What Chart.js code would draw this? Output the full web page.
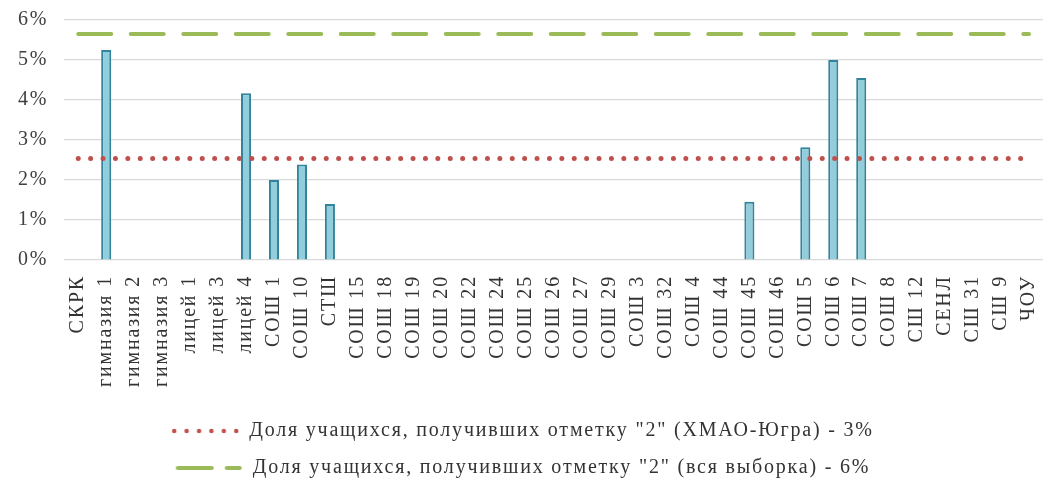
<!DOCTYPE html>
<html>
<head>
<meta charset="utf-8">
<script src="https://cdn.jsdelivr.net/npm/chart.js@4.4.0/dist/chart.umd.min.js"></script>
<style>
  html, body { margin: 0; padding: 0; background: #fff; }
  #wrap { width: 1043px; height: 479px; }
</style>
</head>
<body>
<div id="wrap"><canvas id="chart"></canvas></div>
<script>
// категории (школы)
const schools = ['СКРК', 'гимназия 1', 'гимназия 2', 'гимназия 3', 'лицей 1', 'лицей 3', 'лицей 4',
  'СОШ 1', 'СОШ 10', 'СТШ', 'СОШ 15', 'СОШ 18', 'СОШ 19', 'СОШ 20', 'СОШ 22', 'СОШ 24', 'СОШ 25',
  'СОШ 26', 'СОШ 27', 'СОШ 29', 'СОШ 3', 'СОШ 32', 'СОШ 4', 'СОШ 44', 'СОШ 45', 'СОШ 46',
  'СОШ 5', 'СОШ 6', 'СОШ 7', 'СОШ 8', 'СШ 12', 'СЕНЛ', 'СШ 31', 'СШ 9', 'ЧОУ'];

// доля "2" по школам, %
const schoolShare = [null, 5.25, null, null, null, null, 4.17,
  2.0, 2.39, 1.4, null, null, null, null, null, null, null,
  null, null, null, null, null, null, null, 1.46, null,
  2.82, 5.0, 4.55, null, null, null, null, null, null];

// ХМАО-Югра, %
const regionShare = [2.54, 2.54, 2.54, 2.54, 2.54, 2.54, 2.54, 2.54, 2.54, 2.54, 2.54, 2.54,
  2.54, 2.54, 2.54, 2.54, 2.54, 2.54, 2.54, 2.54, 2.54, 2.54, 2.54, 2.54, 2.54, 2.54, 2.54,
  2.54, 2.54, 2.54, 2.54, 2.54, 2.54, 2.54, 2.54];

// вся выборка, %
const sampleShare = [5.65, 5.65, 5.65, 5.65, 5.65, 5.65, 5.65, 5.65, 5.65, 5.65, 5.65, 5.65,
  5.65, 5.65, 5.65, 5.65, 5.65, 5.65, 5.65, 5.65, 5.65, 5.65, 5.65, 5.65, 5.65, 5.65, 5.65,
  5.65, 5.65, 5.65, 5.65, 5.65, 5.65, 5.65, 5.65];

const yTicks = [0, 1, 2, 3, 4, 5, 6];

const serif = 'Liberation Serif, "Times New Roman", serif';

// текст в оригинале чуть растянут по ширине
const spacing = {
  id: 'spacing',
  beforeLayout(chart) { chart.ctx.letterSpacing = '1.8px'; },
  beforeDraw(chart) { chart.ctx.letterSpacing = '1.8px'; }
};

// значки легенды: пунктир / штрих
function marker(color, width, dash) {
  const c = document.createElement('canvas');
  c.width = 68;
  c.height = 8;
  const g = c.getContext('2d');
  g.strokeStyle = color;
  g.lineWidth = width;
  g.lineCap = 'round';
  g.setLineDash(dash);
  g.beginPath();
  g.moveTo(3, 4);
  g.lineTo(65, 4);
  g.stroke();
  return c;
}
const legendMarks = [marker('#c0504d', 4.5, [0, 12.4]), marker('#9bbb59', 4, [34, 15])];

new Chart(document.getElementById('chart'), {
  type: 'bar',
  data: {
    labels: schools,
    datasets: [
      {
        type: 'line',
        label: 'Доля учащихся, получивших отметку "2" (ХМАО-Югра) - 3%',
        data: regionShare,
        borderColor: '#c0504d',
        backgroundColor: 'transparent',
        borderWidth: 5,
        borderDash: [0, 12.4],
        borderCapStyle: 'round',
        pointRadius: 0,
        fill: false
      },
      {
        type: 'line',
        label: 'Доля учащихся, получивших отметку "2" (вся выборка) - 6%',
        data: sampleShare,
        borderColor: '#9bbb59',
        backgroundColor: 'transparent',
        borderWidth: 4,
        borderDash: [33, 19.5],
        borderCapStyle: 'round',
        pointRadius: 0,
        fill: false
      },
      {
        label: 'school',
        data: schoolShare,
        backgroundColor: '#92cddc',
        borderColor: '#31849b',
        borderWidth: 2,
        categoryPercentage: 1,
        barPercentage: 0.36
      }
    ]
  },
  plugins: [spacing],
  options: {
    responsive: true,
    maintainAspectRatio: false,
    animation: false,
    layout: { padding: { top: 20, right: 0, left: 2, bottom: -9 } },
    plugins: {
      tooltip: { enabled: false },
      legend: {
        position: 'bottom',
        labels: {
          generateLabels: chart => Chart.defaults.plugins.legend.labels.generateLabels(chart)
            .filter(item => item.datasetIndex < 2)
            .map(item => Object.assign(item, { pointStyle: legendMarks[item.datasetIndex] })),
          usePointStyle: true,
          pointStyleWidth: 68,
          boxHeight: 8,
          padding: 17,
          color: '#333',
          font: { family: serif, size: 20 }
        }
      }
    },
    scales: {
      x: {
        grid: { display: false },
        border: { display: false },
        afterFit: s => { s.height += 10; s.paddingRight = 0; },
        ticks: {
          minRotation: 90,
          maxRotation: 90,
          autoSkip: false,
          color: '#333',
          padding: 7,
          font: { family: serif, size: 20 }
        }
      },
      y: {
        min: 0,
        max: 6,
        afterBuildTicks: axis => { axis.ticks = yTicks.map(v => ({ value: v })); },
        afterFit: s => { s.paddingTop = 0; s.paddingBottom = 0; },
        grid: { color: '#d9d9d9', lineWidth: 1.3, drawTicks: false },
        border: { display: false },
        ticks: {
          padding: 16,
          color: '#404040',
          font: { family: serif, size: 20 },
          callback: v => v + '%'
        }
      }
    }
  }
});
</script>
</body>
</html>
